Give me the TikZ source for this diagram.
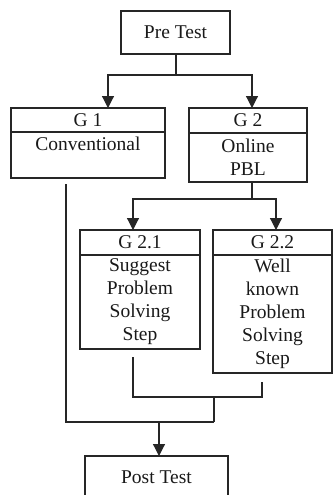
\documentclass[tikz,border=0pt]{standalone}
\usepackage{fontspec}
\setmainfont{Liberation Serif}
\usepackage{tikz}
\usetikzlibrary{arrows.meta, positioning}
\tikzstyle{box}=[rectangle, draw=black!85, line width=1.2pt, outer sep=0pt, inner xsep=2pt, inner ysep=1pt, text=black!90]
\tikzstyle{head}=[box, minimum height=24pt]
\tikzstyle{body}=[box, align=center]
\tikzstyle{link}=[draw=black!85, line width=1.2pt]

\begin{document}
\begin{tikzpicture}[x=1pt, y=-1pt, >={Triangle[width=12pt, length=12pt]},
    font=\fontsize{19.5}{23}\selectfont]
          \useasboundingbox (0,0) rectangle (333,495);

          \node[box, minimum width=109pt, minimum height=43pt] (pre) at (175.5,32.5) {Pre Test};

          \node[head, minimum width=154pt] (g1h) at (88,120) {G 1};
          \node[body, minimum width=154pt, text height=17pt, text depth=27pt] (g1) [below=0pt of g1h] {Conventional};

          \node[head, minimum width=118pt, minimum height=25pt] (g2h) at (248,120.5) {G 2};
          \node[body, minimum width=118pt, minimum height=49pt] (g2) [below=0pt of g2h] {Online\\PBL};

          \node[head, minimum width=120pt, minimum height=25pt] (g21h) at (140,242.5) {G 2.1};
          \node[body, minimum width=120pt, minimum height=94pt] (g21) [below=0pt of g21h] {Suggest\\Problem\\Solving\\Step};

          \node[head, minimum width=119pt, minimum height=25pt] (g22h) at (272.5,242.5) {G 2.2};
          \node[body, minimum width=119pt, minimum height=118pt] (g22) [below=0pt of g22h] {Well\\known\\Problem\\Solving\\Step};

          \node[box, minimum width=143pt, minimum height=43pt] (post) at (156.5,477.5) {Post Test};

          % junctions
          \coordinate (j1) at (176,75);
          \coordinate (j2) at (252,199);
          \coordinate (j3) at (214,397);
          \coordinate (j3r) at (262,397);
          \coordinate (j4) at (214,422);
          \coordinate (j5) at (159,422);

          \draw[link] (pre.south -| j1) -- (j1);
          \draw[link, ->] (j1) -| ([xshift=20pt]g1h.north);
          \draw[link, ->] (j1) -| ([xshift=4pt]g2h.north);

          \draw[link] (g2.south -| j2) -- (j2);
          \draw[link, ->] (j2) -| ([xshift=-7pt]g21h.north);
          \draw[link, ->] (j2) -| ([xshift=3.5pt]g22h.north);

          \draw[link, shorten <=8pt, shorten >=9pt] ([xshift=-7pt]g21.south) |- (j3r) -- ([xshift=-10.5pt]g22.south);
          \draw[link] (j3) -- (j4);
          \draw[link, shorten <=6pt] ([xshift=-22pt]g1.south) |- (j4);
          \draw[link, ->] (j5) -- (j5 |- post.north);
        \end{tikzpicture}
\end{document}
